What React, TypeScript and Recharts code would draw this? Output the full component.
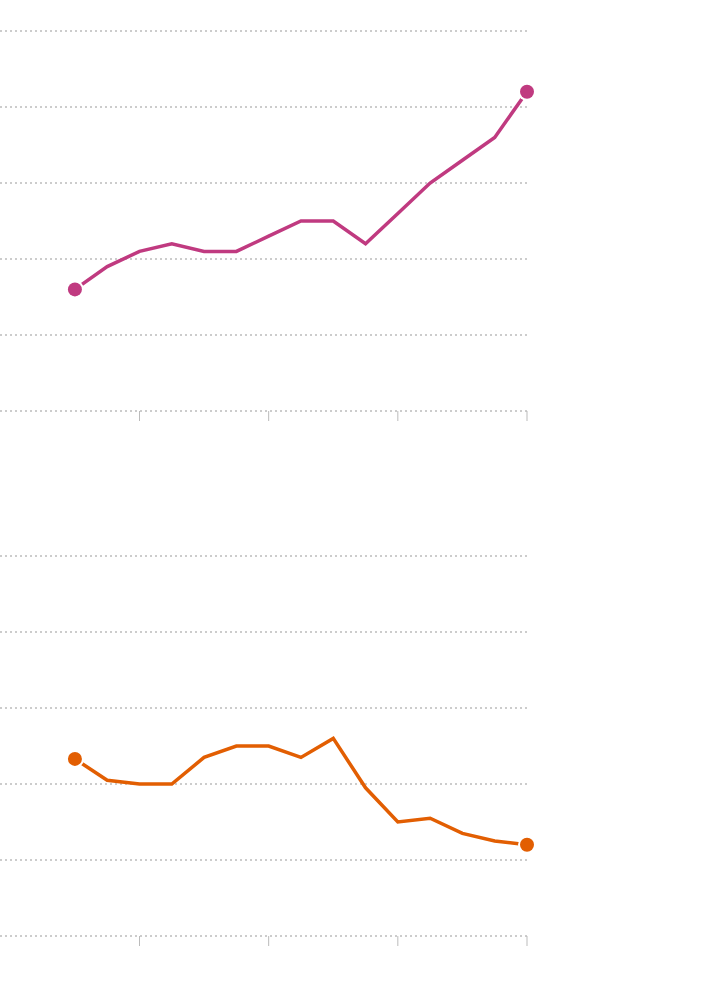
import { LineChart, Line, XAxis, YAxis, CartesianGrid } from "recharts";

const years = [2006, 2007, 2008, 2009, 2010, 2011, 2012, 2013, 2014, 2015, 2016, 2017, 2018, 2019, 2020];
const magentaValues = [16, 19, 21, 22, 21, 21, 23, 25, 25, 22, 26, 30, 33, 36, 42];
const orangeValues = [23.3, 20.5, 20, 20, 23.5, 25, 25, 23.5, 26, 19.5, 15, 15.5, 13.5, 12.5, 12];
const xTicks = [2008, 2012, 2016, 2020];
const yTicks = [0, 10, 20, 30, 40, 50];

const topData = years.map((year, i) => ({ year, value: magentaValues[i] }));
const bottomData = years.map((year, i) => ({ year, value: orangeValues[i] }));

function EndDot(props: any, color: string, last: number) {
  const { cx, cy, index } = props;
  if (index !== 0 && index !== last) return <g key={`d-${index}`} />;
  return (
    <g key={`d-${index}`}>
      <circle cx={cx} cy={cy} r={9} fill="#fff" />
      <circle cx={cx} cy={cy} r={7} fill={color} />
    </g>
  );
}

function Panel({
  data,
  color,
  height,
  top,
  axisHeight,
}: {
  data: { year: number; value: number }[];
  color: string;
  height: number;
  top: number;
  axisHeight: number;
}) {
  return (
    <LineChart
      width={710}
      height={height}
      data={data}
      margin={{ top, right: 183, left: 0, bottom: 0 }}
      style={{ overflow: "visible" }}
    >
      <CartesianGrid vertical={false} stroke="#999" strokeDasharray="2 3" />
      <XAxis
        dataKey="year"
        type="number"
        domain={[2003.68, 2020]}
        ticks={xTicks}
        axisLine={false}
        tickLine={{ stroke: "#bbb" }}
        tickSize={10}
        tickFormatter={() => ""}
        height={axisHeight}
      />
      <YAxis hide domain={[0, 50]} ticks={yTicks} />
      <Line
        type="linear"
        dataKey="value"
        stroke={color}
        strokeWidth={3.5}
        dot={(p: any) => EndDot(p, color, data.length - 1)}
        activeDot={false}
        isAnimationActive={false}
      />
    </LineChart>
  );
}

export default function App() {
  return (
    <div style={{ position: "absolute", left: 0, top: 0, width: 710, height: 984, background: "#fff" }}>
      <Panel data={topData} color="#c03a80" height={460} top={31} axisHeight={49} />
      <div style={{ height: 30 }} />
      <Panel data={bottomData} color="#e25e02" height={494} top={66} axisHeight={48} />
    </div>
  );
}
